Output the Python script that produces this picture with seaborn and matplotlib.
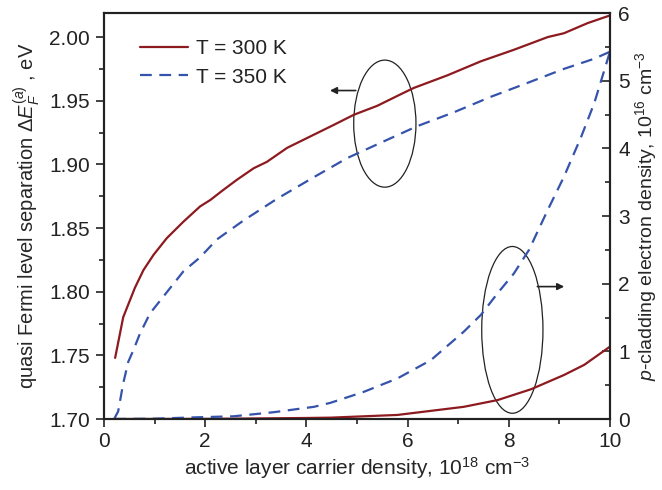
import matplotlib
matplotlib.use("Agg")
import matplotlib.pyplot as plt
import seaborn as sns
import numpy as np
import pandas as pd
from matplotlib.patches import Ellipse

# ---- data ----
x_300_E = [0.22, 0.38, 0.61, 0.78, 0.98, 1.24, 1.57, 1.90, 2.10, 2.36, 2.63, 2.96, 3.22,
           3.62, 4.54, 4.94, 5.40, 5.86, 6.12, 6.79, 7.45, 8.10, 8.77, 9.09, 9.56, 10.0]
E_300 = [1.748, 1.780, 1.803, 1.817, 1.829, 1.842, 1.855, 1.867, 1.872, 1.880, 1.888,
         1.897, 1.902, 1.913, 1.931, 1.939, 1.946, 1.955, 1.960, 1.970, 1.981, 1.990,
         2.000, 2.003, 2.011, 2.017]

x_350_E = [0.20, 0.28, 0.38, 0.48, 0.58, 0.71, 0.91, 1.17, 1.57, 1.90, 2.23, 2.76,
           3.42, 4.15, 4.81, 5.47, 6.19, 6.92, 7.64, 8.37, 9.09, 9.69, 10.0]
E_350 = [1.700, 1.706, 1.728, 1.745, 1.754, 1.767, 1.783, 1.796, 1.816, 1.827, 1.841,
         1.856, 1.873, 1.890, 1.905, 1.917, 1.930, 1.941, 1.953, 1.964, 1.975, 1.983, 1.9885]

x_350_n = [0.2, 1.0, 1.83, 2.56, 3.35, 4.15, 4.48, 5.13, 5.80, 6.46, 7.11, 7.45, 7.78,
           8.10, 8.40, 8.77, 9.09, 9.43, 9.69, 9.89, 10.0]
n_350 = [0.0, 0.005, 0.025, 0.04, 0.10, 0.18, 0.24, 0.40, 0.60, 0.87, 1.29, 1.54, 1.86,
         2.15, 2.50, 3.09, 3.58, 4.17, 4.67, 5.16, 5.43]

x_300_n = [0.2, 2.0, 3.0, 4.0, 4.48, 5.80, 7.11, 7.78, 8.44, 9.09, 9.49, 10.0]
n_300 = [0.0, 0.002, 0.008, 0.015, 0.02, 0.06, 0.18, 0.28, 0.44, 0.65, 0.80, 1.07]

labels = ["T = 300 K", "T = 350 K"]
left_ticks = [1.70, 1.75, 1.80, 1.85, 1.90, 1.95, 2.00]
right_ticks = [0, 1, 2, 3, 4, 5, 6]
x_ticks = [0, 2, 4, 6, 8, 10]

RED = "#8c1a1f"
BLUE = "#3553aa"
DASH = [5.3, 3.4]
FS = 15

sns.set_style("ticks")
plt.rcParams["font.family"] = ["Liberation Sans", "DejaVu Sans"]
plt.rcParams["mathtext.fontset"] = "custom"
plt.rcParams["mathtext.rm"] = "Liberation Sans"
plt.rcParams["mathtext.it"] = "Liberation Sans:italic"
plt.rcParams["mathtext.bf"] = "Liberation Sans:bold"
plt.rcParams["axes.edgecolor"] = "#222222"
plt.rcParams["text.color"] = "#222222"
plt.rcParams["xtick.color"] = "#222222"
plt.rcParams["ytick.color"] = "#222222"

fig = plt.figure(figsize=(6.62, 4.90), dpi=100)
ax = fig.add_axes([104/662, 1 - 419/490, (610-104)/662, (419-13)/490])
ax2 = ax.twinx()

df300 = pd.DataFrame({"x": x_300_E, "y": E_300})
df350 = pd.DataFrame({"x": x_350_E, "y": E_350})
sns.lineplot(data=df300, x="x", y="y", ax=ax, color=RED, lw=1.6, legend=False)
sns.lineplot(data=df350, x="x", y="y", ax=ax, color=BLUE, lw=1.6, legend=False)
l1, l2 = ax.get_lines()[:2]
l2.set_dashes(DASH)

dn300 = pd.DataFrame({"x": x_300_n, "y": n_300})
dn350 = pd.DataFrame({"x": x_350_n, "y": n_350})
sns.lineplot(data=dn300, x="x", y="y", ax=ax2, color=RED, lw=1.6, legend=False)
sns.lineplot(data=dn350, x="x", y="y", ax=ax2, color=BLUE, lw=1.6, legend=False)
ax2.get_lines()[1].set_dashes(DASH)

ax.set_xlim(0, 10)
ax.set_ylim(1.70, 2.0189)
ax2.set_ylim(0, 6)
ax.set_xticks(x_ticks)
ax.set_xticks([1, 3, 5, 7, 9], minor=True)
ax.set_yticks(left_ticks)
ax.set_yticklabels([f"{v:.2f}" for v in left_ticks])
ax.set_yticks(np.arange(1.725, 2.0, 0.05), minor=True)
ax2.set_yticks(right_ticks)
ax2.set_yticks(np.arange(0.5, 6, 1.0), minor=True)

ax.tick_params(axis="both", which="major", direction="out", length=6, width=1.2, labelsize=FS)
ax.tick_params(axis="both", which="minor", direction="out", length=3.5, width=1.2)
ax.tick_params(axis="x", pad=3)
ax.tick_params(axis="y", pad=4)
ax2.tick_params(axis="y", which="major", direction="in", length=6, width=1.2, labelsize=FS, pad=6)
ax2.tick_params(axis="y", which="minor", direction="in", length=3.5, width=1.2)
for a in (ax, ax2):
    for s in a.spines.values():
        s.set_linewidth(1.5)

ax.set_xlabel("active layer carrier density, $10^{18}$ cm$^{-3}$", fontsize=FS, labelpad=3)
ax.set_ylabel("quasi Fermi level separation $\\Delta E_F^{(a)}$ , eV", fontsize=14.5, labelpad=5)
ax2.set_ylabel("$p$-cladding electron density, $10^{16}$ cm$^{-3}$", fontsize=14, labelpad=2)

leg = ax.legend([l1, l2], labels, loc="upper left", bbox_to_anchor=(0.072, 0.935),
                frameon=False, fontsize=FS, handlelength=2.3, handletextpad=0.35,
                labelspacing=0.45, borderaxespad=0.0, borderpad=0.0)

# ellipses and arrows
ax.add_patch(Ellipse((5.55, 1.932), 1.23, 0.0998, fill=False, ec="#222222", lw=0.9))
ax.annotate("", xy=(4.41, 1.958), xytext=(5.03, 1.958),
            arrowprops=dict(arrowstyle="-|>", color="#222222", lw=1.2, mutation_scale=10))
ax.add_patch(Ellipse((8.07, 1.770), 1.21, 0.131, fill=False, ec="#222222", lw=0.9))
ax.annotate("", xy=(9.15, 1.804), xytext=(8.51, 1.804),
            arrowprops=dict(arrowstyle="-|>", color="#222222", lw=1.2, mutation_scale=10))

fig.savefig("out.png", dpi=100)
